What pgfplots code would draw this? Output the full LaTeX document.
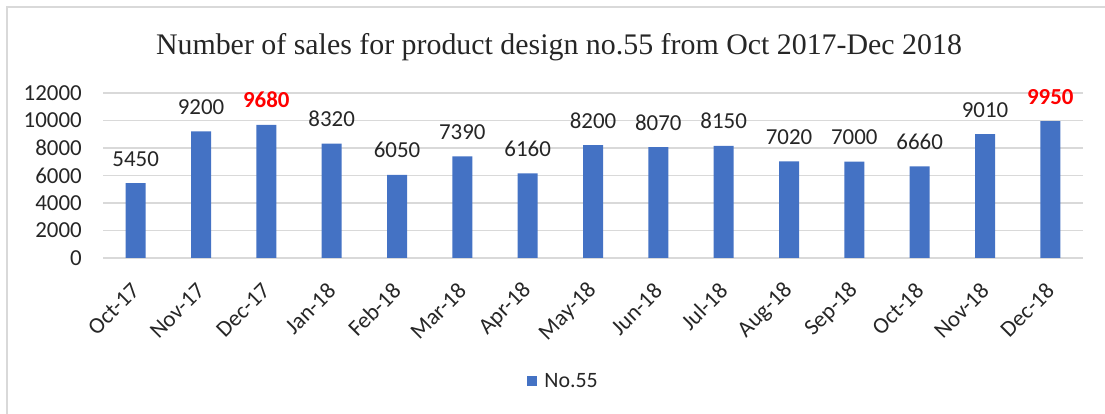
\documentclass[border=0pt]{standalone}
\usepackage{pgfplots}
\pgfplotsset{compat=1.18}
\usepackage{fontspec}
\setmainfont{Carlito}
\newfontfamily\titlefont{Liberation Serif}
\definecolor{barblue}{HTML}{4472C4}
\definecolor{gridgray}{HTML}{D9D9D9}
\definecolor{txt}{HTML}{262626}
\protected\def\redlab#1{\textcolor{red}{\bfseries #1}}
\begin{document}
\begin{tikzpicture}
\begin{axis}[
  at={(103bp,156bp)}, anchor=south west,
  scale only axis, width=980bp, height=165bp,
  xmin=-0.5, xmax=14.5, ymin=0, ymax=12000,
  ybar, bar width=20bp, bar shift=0pt,
  axis line style={draw=none},
  major tick length=0pt,
  ymajorgrids, grid style={gridgray, line width=1.5bp},
  ytick={0,2000,...,12000},
  scaled y ticks=false,
  yticklabel={\pgfmathprintnumber[fixed, precision=0, set thousands separator={}, assume math mode=true]{\tick}},
  yticklabel style={font=\fontsize{23}{23}\selectfont, text=txt, anchor=east, inner sep=0pt, xshift=-21bp},
  xtick={0,...,14},
  xticklabels={Oct-17,Nov-17,Dec-17,Jan-18,Feb-18,Mar-18,Apr-18,May-18,Jun-18,Jul-18,Aug-18,Sep-18,Oct-18,Nov-18,Dec-18},
  xticklabel style={font=\fontsize{23}{23}\selectfont, text=txt, yshift=-29bp, rotate=45, anchor=east, inner sep=0pt},
  point meta=explicit symbolic,
  nodes near coords={\pgfplotspointmeta},
  every node near coord/.append style={font=\fontsize{23}{23}\selectfont, text=txt, anchor=base, yshift=17bp, inner sep=0pt},
  legend style={at={(0.47,-0.745)}, anchor=center, draw=none, font=\fontsize{22}{22}\selectfont, text=txt},
  legend image code/.code={\fill[barblue] (0bp,-5bp) rectangle (10bp,5bp); \path (15bp,0bp);},
]
\addplot[fill=barblue, draw=none] coordinates {
 (0,5450) [5450]
 (1,9200) [9200]
 (2,9680) [\redlab{9680}]
 (3,8320) [8320]
 (4,6050) [6050]
 (5,7390) [7390]
 (6,6160) [6160]
 (7,8200) [8200]
 (8,8070) [8070]
 (9,8150) [8150]
 (10,7020) [7020]
 (11,7000) [7000]
 (12,6660) [6660]
 (13,9010) [9010]
 (14,9950) [\redlab{9950}]
};
\addlegendentry{No.55}
\end{axis}
\node[font=\titlefont\fontsize{30}{30}\selectfont, text=txt, anchor=base] at (559bp,359bp) {Number of sales for product design no.55 from Oct 2017-Dec 2018};
\draw[gridgray, line width=2bp] (7bp,0) -- (7bp,407bp) -- (1105bp,407bp);
\pgfresetboundingbox
\useasboundingbox (0,0) rectangle (1105bp,414bp);
\end{tikzpicture}
\end{document}
